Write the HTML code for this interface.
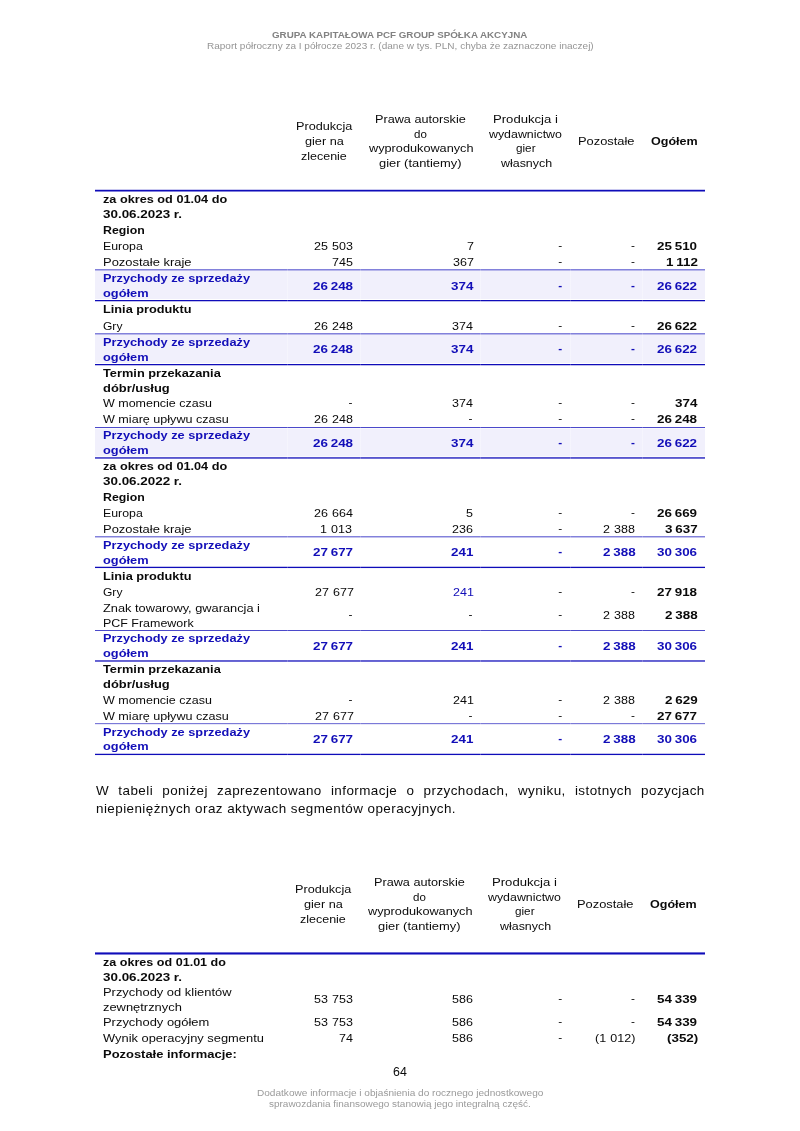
<!DOCTYPE html>
<html lang="pl"><head><meta charset="utf-8"><title>Raport półroczny</title>
<style>
html,body{margin:0;padding:0;background:#fff;}
body{width:800px;height:1131px;position:relative;overflow:hidden;will-change:transform;font-family:"Liberation Sans",sans-serif;color:#0a0a0a;font-size:11.8px;}
.t{position:absolute;white-space:nowrap;line-height:14px;height:14px;transform-origin:0 0;}
.b{font-weight:bold;}
.g{color:#8e8e8e;}
.g2{color:#9c9c9c;}
.band{position:absolute;}
.vl{position:absolute;top:0;bottom:0;width:1px;background:linear-gradient(to bottom,rgba(255,255,255,.22) 0 2px,rgba(255,255,255,.3) 2px 30px,rgba(255,255,255,.22) 30px 33px);}
.vl.nb{background:linear-gradient(to bottom,rgba(255,255,255,.22) 0 2px,rgba(255,255,255,0) 2px 30px,rgba(255,255,255,.22) 30px 33px);}
.para{position:absolute;white-space:nowrap;line-height:14px;height:14px;transform-origin:0 0;}
</style></head>
<body>
<span class="t b" style="left:272.25px;top:28px;transform:scaleX(1.0205);font-size:9.6px;color:#828282;">GRUPA KAPITAŁOWA PCF GROUP SPÓŁKA AKCYJNA</span>
<span class="t" style="left:206.95px;top:39px;transform:scaleX(1.0434);font-size:9.6px;color:#959595;">Raport półroczny za I półrocze 2023 r. (dane w tys. PLN, chyba że zaznaczone inaczej)</span>
<div class="r"><span class="t" style="left:295.82px;top:119px;transform:scaleX(1.0728);">Produkcja</span><span class="t" style="left:304.57px;top:134px;transform:scaleX(1.0751);">gier na</span><span class="t" style="left:301.07px;top:149px;transform:scaleX(1.0578);">zlecenie</span><span class="t" style="left:374.98px;top:112px;transform:scaleX(1.0733);">Prawa autorskie</span><span class="t" style="left:413.98px;top:127px;transform:scaleX(0.9771);">do</span><span class="t" style="left:369.18px;top:141px;transform:scaleX(1.0771);">wyprodukowanych</span><span class="t" style="left:379.35px;top:156px;transform:scaleX(1.0933);">gier (tantiemy)</span><span class="t" style="left:493.20px;top:112px;transform:scaleX(1.1120);">Produkcja i</span><span class="t" style="left:489.15px;top:127px;transform:scaleX(1.0488);">wydawnictwo</span><span class="t" style="left:515.50px;top:141px;transform:scaleX(0.9928);">gier</span><span class="t" style="left:500.55px;top:156px;transform:scaleX(1.0540);">własnych</span><span class="t" style="left:578.00px;top:134px;transform:scaleX(1.0910);">Pozostałe</span><span class="t b" style="left:650.90px;top:134px;transform:scaleX(1.0639);">Ogółem</span></div>
<div class="band" style="left:95px;top:189px;width:610px;height:3px;background:linear-gradient(to bottom,#c8c7ef 0px 1px,#0f0cb9 1px 2px,#8281db 2px 3px)"></div>
<div class="r"><span class="t b" style="left:103.30px;top:192px;transform:scaleX(1.0765);">za okres od 01.04 do</span><span class="t b" style="left:103.30px;top:207px;transform:scaleX(1.1370);">30.06.2023 r.</span></div>
<div class="r"><span class="t b" style="left:103.30px;top:223px;transform:scaleX(1.0435);">Region</span></div>
<div class="r"><span class="t" style="left:103.30px;top:239px;transform:scaleX(1.0460);">Europa</span><span class="t" style="left:313.50px;top:239px;transform:scaleX(1.0600);word-spacing:0.65px;">25 503</span><span class="t" style="left:466.64px;top:239px;transform:scaleX(1.0600);word-spacing:0.65px;">7</span><span class="t" style="left:558.30px;top:238px;">-</span><span class="t" style="left:630.90px;top:238px;">-</span><span class="t b" style="left:657.36px;top:239px;transform:scaleX(1.1350);word-spacing:-0.80px;">25 510</span></div>
<div class="r"><span class="t" style="left:103.30px;top:255px;transform:scaleX(1.0975);">Pozostałe kraje</span><span class="t" style="left:331.57px;top:255px;transform:scaleX(1.0600);word-spacing:0.65px;">745</span><span class="t" style="left:452.73px;top:255px;transform:scaleX(1.0600);word-spacing:0.65px;">367</span><span class="t" style="left:558.30px;top:254px;">-</span><span class="t" style="left:630.90px;top:254px;">-</span><span class="t b" style="left:665.54px;top:255px;transform:scaleX(1.1350);word-spacing:-0.80px;">1 112</span></div>
<div class="band" style="left:95px;top:269px;width:610px;height:33px;background:linear-gradient(to bottom,#8281db 0px 1px,#b8b7eb 1px 2px,#f1f0fc 2px 30px,#ffffff 30px 31px,#0f0cb9 31px 32px,#bebdec 32px 33px)"><i class="vl" style="left:192px"></i><i class="vl" style="left:265px"></i><i class="vl" style="left:385px"></i><i class="vl" style="left:475px"></i><i class="vl" style="left:547px"></i></div>
<div class="r"><span class="t b" style="left:103.30px;top:271px;transform:scaleX(1.0833);color:#120eb8;">Przychody ze sprzedaży</span><span class="t b" style="left:103.30px;top:286px;transform:scaleX(1.0855);color:#120eb8;">ogółem</span><span class="t b" style="left:312.96px;top:279px;transform:scaleX(1.1350);word-spacing:-0.80px;color:#120eb8;">26 248</span><span class="t b" style="left:450.76px;top:279px;transform:scaleX(1.1350);word-spacing:-0.80px;color:#120eb8;">374</span><span class="t b" style="left:558.30px;top:278px;color:#120eb8;">-</span><span class="t b" style="left:630.90px;top:278px;color:#120eb8;">-</span><span class="t b" style="left:657.36px;top:279px;transform:scaleX(1.1350);word-spacing:-0.80px;color:#120eb8;">26 622</span></div>
<div class="r"><span class="t b" style="left:103.30px;top:302px;transform:scaleX(1.0800);">Linia produktu</span></div>
<div class="r"><span class="t" style="left:103.30px;top:319px;transform:scaleX(1.0207);">Gry</span><span class="t" style="left:313.50px;top:319px;transform:scaleX(1.0600);word-spacing:0.65px;">26 248</span><span class="t" style="left:451.67px;top:319px;transform:scaleX(1.0600);word-spacing:0.65px;">374</span><span class="t" style="left:558.30px;top:318px;">-</span><span class="t" style="left:630.90px;top:318px;">-</span><span class="t b" style="left:657.36px;top:319px;transform:scaleX(1.1350);word-spacing:-0.80px;">26 622</span></div>
<div class="band" style="left:95px;top:333px;width:610px;height:33px;background:linear-gradient(to bottom,#8281db 0px 1px,#b8b7eb 1px 2px,#f1f0fc 2px 30px,#ffffff 30px 31px,#0f0cb9 31px 32px,#bebdec 32px 33px)"><i class="vl" style="left:192px"></i><i class="vl" style="left:265px"></i><i class="vl" style="left:385px"></i><i class="vl" style="left:475px"></i><i class="vl" style="left:547px"></i></div>
<div class="r"><span class="t b" style="left:103.30px;top:335px;transform:scaleX(1.0833);color:#120eb8;">Przychody ze sprzedaży</span><span class="t b" style="left:103.30px;top:350px;transform:scaleX(1.0855);color:#120eb8;">ogółem</span><span class="t b" style="left:312.96px;top:342px;transform:scaleX(1.1350);word-spacing:-0.80px;color:#120eb8;">26 248</span><span class="t b" style="left:450.76px;top:342px;transform:scaleX(1.1350);word-spacing:-0.80px;color:#120eb8;">374</span><span class="t b" style="left:558.30px;top:341px;color:#120eb8;">-</span><span class="t b" style="left:630.90px;top:341px;color:#120eb8;">-</span><span class="t b" style="left:657.36px;top:342px;transform:scaleX(1.1350);word-spacing:-0.80px;color:#120eb8;">26 622</span></div>
<div class="r"><span class="t b" style="left:103.30px;top:366px;transform:scaleX(1.0843);">Termin przekazania</span><span class="t b" style="left:103.30px;top:381px;transform:scaleX(1.0949);">dóbr/usług</span></div>
<div class="r"><span class="t" style="left:103.30px;top:396px;transform:scaleX(1.0575);">W momencie czasu</span><span class="t" style="left:348.40px;top:395px;">-</span><span class="t" style="left:451.67px;top:396px;transform:scaleX(1.0600);word-spacing:0.65px;">374</span><span class="t" style="left:558.30px;top:395px;">-</span><span class="t" style="left:630.90px;top:395px;">-</span><span class="t b" style="left:675.06px;top:396px;transform:scaleX(1.1350);word-spacing:-0.80px;">374</span></div>
<div class="r"><span class="t" style="left:103.30px;top:412px;transform:scaleX(1.0665);">W miarę upływu czasu</span><span class="t" style="left:313.50px;top:412px;transform:scaleX(1.0600);word-spacing:0.65px;">26 248</span><span class="t" style="left:468.50px;top:411px;">-</span><span class="t" style="left:558.30px;top:411px;">-</span><span class="t" style="left:630.90px;top:411px;">-</span><span class="t b" style="left:657.36px;top:412px;transform:scaleX(1.1350);word-spacing:-0.80px;">26 248</span></div>
<div class="band" style="left:95px;top:427px;width:610px;height:33px;background:linear-gradient(to bottom,#4b49ca 0px 1px,#f8f8fe 1px 2px,#f1f0fc 2px 29px,#f9f9fe 29px 30px,#5755ce 30px 31px,#6f6dd5 31px 32px,#ffffff 32px 33px)"><i class="vl" style="left:192px"></i><i class="vl" style="left:265px"></i><i class="vl" style="left:385px"></i><i class="vl" style="left:475px"></i><i class="vl" style="left:547px"></i></div>
<div class="r"><span class="t b" style="left:103.30px;top:428px;transform:scaleX(1.0833);color:#120eb8;">Przychody ze sprzedaży</span><span class="t b" style="left:103.30px;top:443px;transform:scaleX(1.0855);color:#120eb8;">ogółem</span><span class="t b" style="left:312.96px;top:436px;transform:scaleX(1.1350);word-spacing:-0.80px;color:#120eb8;">26 248</span><span class="t b" style="left:450.76px;top:436px;transform:scaleX(1.1350);word-spacing:-0.80px;color:#120eb8;">374</span><span class="t b" style="left:558.30px;top:435px;color:#120eb8;">-</span><span class="t b" style="left:630.90px;top:435px;color:#120eb8;">-</span><span class="t b" style="left:657.36px;top:436px;transform:scaleX(1.1350);word-spacing:-0.80px;color:#120eb8;">26 622</span></div>
<div class="r"><span class="t b" style="left:103.30px;top:459px;transform:scaleX(1.0765);">za okres od 01.04 do</span><span class="t b" style="left:103.30px;top:474px;transform:scaleX(1.1370);">30.06.2022 r.</span></div>
<div class="r"><span class="t b" style="left:103.30px;top:490px;transform:scaleX(1.0435);">Region</span></div>
<div class="r"><span class="t" style="left:103.30px;top:506px;transform:scaleX(1.0460);">Europa</span><span class="t" style="left:313.50px;top:506px;transform:scaleX(1.0600);word-spacing:0.65px;">26 664</span><span class="t" style="left:465.58px;top:506px;transform:scaleX(1.0600);word-spacing:0.65px;">5</span><span class="t" style="left:558.30px;top:505px;">-</span><span class="t" style="left:630.90px;top:505px;">-</span><span class="t b" style="left:657.36px;top:506px;transform:scaleX(1.1350);word-spacing:-0.80px;">26 669</span></div>
<div class="r"><span class="t" style="left:103.30px;top:522px;transform:scaleX(1.0975);">Pozostałe kraje</span><span class="t" style="left:320.45px;top:522px;transform:scaleX(1.0600);word-spacing:0.65px;">1 013</span><span class="t" style="left:451.67px;top:522px;transform:scaleX(1.0600);word-spacing:0.65px;">236</span><span class="t" style="left:558.30px;top:521px;">-</span><span class="t" style="left:602.95px;top:522px;transform:scaleX(1.0600);word-spacing:0.65px;">2 388</span><span class="t b" style="left:664.80px;top:522px;transform:scaleX(1.1350);word-spacing:-0.80px;">3 637</span></div>
<div class="band" style="left:95px;top:536px;width:610px;height:33px;background:linear-gradient(to bottom,#8281db 0px 1px,#c3c2ee 1px 2px,#ffffff 2px 30px,#c3c2ee 30px 31px,#0f0cb9 31px 32px,#f3f3fc 32px 33px)"><i class="vl nb" style="left:192px"></i><i class="vl nb" style="left:265px"></i><i class="vl nb" style="left:385px"></i><i class="vl nb" style="left:475px"></i><i class="vl nb" style="left:547px"></i></div>
<div class="r"><span class="t b" style="left:103.30px;top:538px;transform:scaleX(1.0833);color:#120eb8;">Przychody ze sprzedaży</span><span class="t b" style="left:103.30px;top:553px;transform:scaleX(1.0855);color:#120eb8;">ogółem</span><span class="t b" style="left:312.96px;top:545px;transform:scaleX(1.1350);word-spacing:-0.80px;color:#120eb8;">27 677</span><span class="t b" style="left:450.76px;top:545px;transform:scaleX(1.1350);word-spacing:-0.80px;color:#120eb8;">241</span><span class="t b" style="left:558.30px;top:544px;color:#120eb8;">-</span><span class="t b" style="left:602.90px;top:545px;transform:scaleX(1.1350);word-spacing:-0.80px;color:#120eb8;">2 388</span><span class="t b" style="left:657.36px;top:545px;transform:scaleX(1.1350);word-spacing:-0.80px;color:#120eb8;">30 306</span></div>
<div class="r"><span class="t b" style="left:103.30px;top:569px;transform:scaleX(1.0800);">Linia produktu</span></div>
<div class="r"><span class="t" style="left:103.30px;top:585px;transform:scaleX(1.0207);">Gry</span><span class="t" style="left:314.56px;top:585px;transform:scaleX(1.0600);word-spacing:0.65px;">27 677</span><span class="t" style="left:452.73px;top:585px;transform:scaleX(1.0600);word-spacing:0.65px;color:#120eb8;">241</span><span class="t" style="left:558.30px;top:584px;">-</span><span class="t" style="left:630.90px;top:584px;">-</span><span class="t b" style="left:657.36px;top:585px;transform:scaleX(1.1350);word-spacing:-0.80px;">27 918</span></div>
<div class="r"><span class="t" style="left:103.30px;top:601px;transform:scaleX(1.0846);">Znak towarowy, gwarancja i</span><span class="t" style="left:103.30px;top:616px;transform:scaleX(1.0557);">PCF Framework</span><span class="t" style="left:348.40px;top:607px;">-</span><span class="t" style="left:468.50px;top:607px;">-</span><span class="t" style="left:558.30px;top:607px;">-</span><span class="t" style="left:602.95px;top:608px;transform:scaleX(1.0600);word-spacing:0.65px;">2 388</span><span class="t b" style="left:664.80px;top:608px;transform:scaleX(1.1350);word-spacing:-0.80px;">2 388</span></div>
<div class="band" style="left:95px;top:630px;width:610px;height:33px;background:linear-gradient(to bottom,#4b49ca 0px 1px,#ffffff 1px 30px,#6361d2 30px 31px,#6a68d4 31px 32px,#ffffff 32px 33px)"><i class="vl nb" style="left:192px"></i><i class="vl nb" style="left:265px"></i><i class="vl nb" style="left:385px"></i><i class="vl nb" style="left:475px"></i><i class="vl nb" style="left:547px"></i></div>
<div class="r"><span class="t b" style="left:103.30px;top:631px;transform:scaleX(1.0833);color:#120eb8;">Przychody ze sprzedaży</span><span class="t b" style="left:103.30px;top:646px;transform:scaleX(1.0855);color:#120eb8;">ogółem</span><span class="t b" style="left:312.96px;top:639px;transform:scaleX(1.1350);word-spacing:-0.80px;color:#120eb8;">27 677</span><span class="t b" style="left:450.76px;top:639px;transform:scaleX(1.1350);word-spacing:-0.80px;color:#120eb8;">241</span><span class="t b" style="left:558.30px;top:638px;color:#120eb8;">-</span><span class="t b" style="left:602.90px;top:639px;transform:scaleX(1.1350);word-spacing:-0.80px;color:#120eb8;">2 388</span><span class="t b" style="left:657.36px;top:639px;transform:scaleX(1.1350);word-spacing:-0.80px;color:#120eb8;">30 306</span></div>
<div class="r"><span class="t b" style="left:103.30px;top:662px;transform:scaleX(1.0843);">Termin przekazania</span><span class="t b" style="left:103.30px;top:677px;transform:scaleX(1.0949);">dóbr/usług</span></div>
<div class="r"><span class="t" style="left:103.30px;top:693px;transform:scaleX(1.0575);">W momencie czasu</span><span class="t" style="left:348.40px;top:692px;">-</span><span class="t" style="left:452.73px;top:693px;transform:scaleX(1.0600);word-spacing:0.65px;">241</span><span class="t" style="left:558.30px;top:692px;">-</span><span class="t" style="left:602.95px;top:693px;transform:scaleX(1.0600);word-spacing:0.65px;">2 388</span><span class="t b" style="left:664.80px;top:693px;transform:scaleX(1.1350);word-spacing:-0.80px;">2 629</span></div>
<div class="r"><span class="t" style="left:103.30px;top:709px;transform:scaleX(1.0665);">W miarę upływu czasu</span><span class="t" style="left:314.56px;top:709px;transform:scaleX(1.0600);word-spacing:0.65px;">27 677</span><span class="t" style="left:468.50px;top:708px;">-</span><span class="t" style="left:558.30px;top:708px;">-</span><span class="t" style="left:630.90px;top:708px;">-</span><span class="t b" style="left:657.36px;top:709px;transform:scaleX(1.1350);word-spacing:-0.80px;">27 677</span></div>
<div class="band" style="left:95px;top:723px;width:610px;height:33px;background:linear-gradient(to bottom,#7b79d8 0px 1px,#e7e7f8 1px 2px,#ffffff 2px 30px,#c3c2ee 30px 31px,#0f0cb9 31px 32px,#f3f3fc 32px 33px)"><i class="vl nb" style="left:192px"></i><i class="vl nb" style="left:265px"></i><i class="vl nb" style="left:385px"></i><i class="vl nb" style="left:475px"></i><i class="vl nb" style="left:547px"></i></div>
<div class="r"><span class="t b" style="left:103.30px;top:725px;transform:scaleX(1.0833);color:#120eb8;">Przychody ze sprzedaży</span><span class="t b" style="left:103.30px;top:739px;transform:scaleX(1.0855);color:#120eb8;">ogółem</span><span class="t b" style="left:312.96px;top:732px;transform:scaleX(1.1350);word-spacing:-0.80px;color:#120eb8;">27 677</span><span class="t b" style="left:450.76px;top:732px;transform:scaleX(1.1350);word-spacing:-0.80px;color:#120eb8;">241</span><span class="t b" style="left:558.30px;top:731px;color:#120eb8;">-</span><span class="t b" style="left:602.90px;top:732px;transform:scaleX(1.1350);word-spacing:-0.80px;color:#120eb8;">2 388</span><span class="t b" style="left:657.36px;top:732px;transform:scaleX(1.1350);word-spacing:-0.80px;color:#120eb8;">30 306</span></div>
<div class="para" style="left:95.60px;top:784px;font-size:12.8px;letter-spacing:0.411px;transform:scaleX(1.05);text-align:justify;text-align-last:justify;white-space:normal;width:579.74px">W tabeli poniżej zaprezentowano informacje o przychodach, wyniku, istotnych pozycjach</div>
<div class="para" style="left:95.60px;top:802px;font-size:12.8px;letter-spacing:0.411px;transform:scaleX(1.05);">niepieniężnych oraz aktywach segmentów operacyjnych.</div>
<div class="r"><span class="t" style="left:294.93px;top:882px;transform:scaleX(1.0728);">Produkcja</span><span class="t" style="left:303.68px;top:897px;transform:scaleX(1.0751);">gier na</span><span class="t" style="left:300.18px;top:912px;transform:scaleX(1.0578);">zlecenie</span><span class="t" style="left:374.08px;top:875px;transform:scaleX(1.0733);">Prawa autorskie</span><span class="t" style="left:413.08px;top:890px;transform:scaleX(0.9771);">do</span><span class="t" style="left:368.28px;top:904px;transform:scaleX(1.0771);">wyprodukowanych</span><span class="t" style="left:378.45px;top:919px;transform:scaleX(1.0933);">gier (tantiemy)</span><span class="t" style="left:492.30px;top:875px;transform:scaleX(1.1120);">Produkcja i</span><span class="t" style="left:488.25px;top:890px;transform:scaleX(1.0488);">wydawnictwo</span><span class="t" style="left:514.60px;top:904px;transform:scaleX(0.9928);">gier</span><span class="t" style="left:499.65px;top:919px;transform:scaleX(1.0540);">własnych</span><span class="t" style="left:577.10px;top:897px;transform:scaleX(1.0910);">Pozostałe</span><span class="t b" style="left:650.00px;top:897px;transform:scaleX(1.0639);">Ogółem</span></div>
<div class="band" style="left:95px;top:952px;width:610px;height:3px;background:linear-gradient(to bottom,#6f6dd5 0px 1px,#0f0cb9 1px 2px,#8281db 2px 3px)"></div>
<div class="r"><span class="t b" style="left:103.30px;top:955px;transform:scaleX(1.0656);">za okres od 01.01 do</span><span class="t b" style="left:103.30px;top:970px;transform:scaleX(1.1370);">30.06.2023 r.</span></div>
<div class="r"><span class="t" style="left:103.30px;top:985px;transform:scaleX(1.0946);">Przychody od klientów</span><span class="t" style="left:103.30px;top:1000px;transform:scaleX(1.0934);">zewnętrznych</span><span class="t" style="left:313.50px;top:992px;transform:scaleX(1.0600);word-spacing:0.65px;">53 753</span><span class="t" style="left:451.67px;top:992px;transform:scaleX(1.0600);word-spacing:0.65px;">586</span><span class="t" style="left:558.30px;top:991px;">-</span><span class="t" style="left:630.90px;top:991px;">-</span><span class="t b" style="left:657.36px;top:992px;transform:scaleX(1.1350);word-spacing:-0.80px;">54 339</span></div>
<div class="r"><span class="t" style="left:103.30px;top:1015px;transform:scaleX(1.0955);">Przychody ogółem</span><span class="t" style="left:313.50px;top:1015px;transform:scaleX(1.0600);word-spacing:0.65px;">53 753</span><span class="t" style="left:451.67px;top:1015px;transform:scaleX(1.0600);word-spacing:0.65px;">586</span><span class="t" style="left:558.30px;top:1014px;">-</span><span class="t" style="left:630.90px;top:1014px;">-</span><span class="t b" style="left:657.36px;top:1015px;transform:scaleX(1.1350);word-spacing:-0.80px;">54 339</span></div>
<div class="r"><span class="t" style="left:103.30px;top:1031px;transform:scaleX(1.0912);">Wynik operacyjny segmentu</span><span class="t" style="left:338.53px;top:1031px;transform:scaleX(1.0600);word-spacing:0.65px;">74</span><span class="t" style="left:451.67px;top:1031px;transform:scaleX(1.0600);word-spacing:0.65px;">586</span><span class="t" style="left:558.30px;top:1030px;">-</span><span class="t" style="left:595.01px;top:1031px;transform:scaleX(1.0600);word-spacing:0.65px;">(1 012)</span><span class="t b" style="left:666.56px;top:1031px;transform:scaleX(1.1350);word-spacing:-0.80px;">(352)</span></div>
<div class="r"><span class="t b" style="left:103.30px;top:1047px;transform:scaleX(1.0971);">Pozostałe informacje:</span></div>
<span class="t" style="left:393.05px;top:1065px;font-size:12.4px;">64</span>
<span class="t" style="left:256.80px;top:1086px;transform:scaleX(1.0487);font-size:9.6px;color:#9a9a9a;">Dodatkowe informacje i objaśnienia do rocznego jednostkowego</span>
<span class="t" style="left:268.90px;top:1097px;transform:scaleX(1.0396);font-size:9.6px;color:#9a9a9a;">sprawozdania finansowego stanowią jego integralną część.</span>
</body></html>
